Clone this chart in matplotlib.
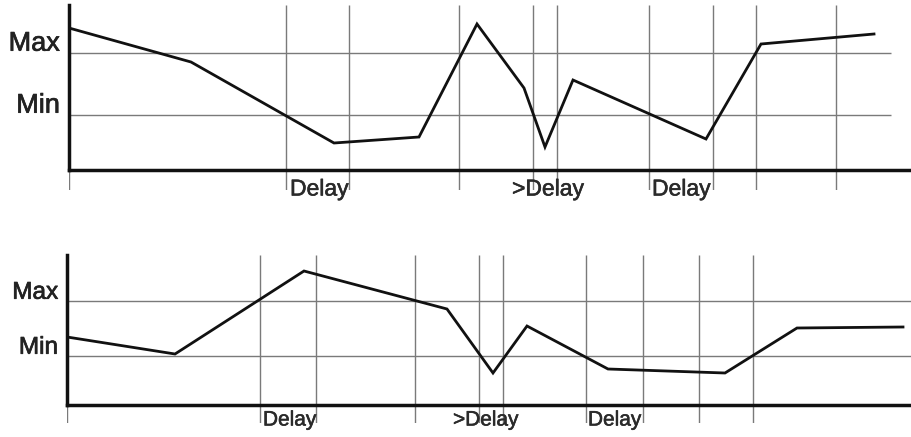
import matplotlib.pyplot as plt
import matplotlib.patheffects as pe

plt.rcParams['font.family'] = ['Liberation Sans', 'DejaVu Sans']

# top panel (x: time, y: level; baseline = 0)
top_x = [0, 122, 265, 350, 408, 455, 476, 504, 637, 692, 805]
top_y = [142, 108, 27, 33, 146, 82, 23, 90, 31, 126, 136]
top_vlines = [0, 217, 280, 390, 464, 488, 580, 644, 687, 767]
top_max, top_min = 117, 55
top_labels = ["Delay", ">Delay", "Delay"]
top_label_x = [221, 443, 583]

# bottom panel
bot_x = [0, 108, 237, 380, 426, 460, 541, 658, 730, 836]
bot_y = [68, 51, 134, 96, 32, 79, 36, 32, 77, 78]
bot_vlines = [0, 193, 249, 348, 412, 436, 519, 576, 632, 686]
bot_max, bot_min = 104, 49
bot_labels = ["Delay", ">Delay", "Delay"]
bot_label_x = [196, 386, 521]

W, H = 912, 437
fig = plt.figure(figsize=(W / 100, H / 100), dpi=100)


def panel(rect, xs, ys, vls, ymax, ymin, xlim, ylim, hl_end, labels, lab_x,
          lab_y, big, small):
    ax = fig.add_axes(rect)
    ax.set_xlim(*xlim)
    ax.set_ylim(*ylim)
    ax.vlines(vls, ylim[0], ylim[1], color='#7a7a7a', lw=1.0, zorder=1)
    ax.hlines([ymax, ymin], 0, hl_end, color='#7a7a7a', lw=1.0, zorder=1)
    ax.plot(xs, ys, color='#111111', lw=2.0, zorder=3, solid_joinstyle='miter')
    for s in ['top', 'right']:
        ax.spines[s].set_visible(False)
    ax.spines['bottom'].set_position(('data', 0))
    ax.spines['left'].set_bounds(0, ylim[1])
    for s in ['left', 'bottom']:
        ax.spines[s].set_linewidth(2.5)
        ax.spines[s].set_color('#111111')
    ax.set_xticks([])
    ax.set_yticks([])
    ax.patch.set_alpha(0)
    fx = [pe.withStroke(linewidth=0.5, foreground='#222222')]
    ax.text(-9, ymax + (ymax - ymin) * 0.15, "Max", ha='right', va='center',
            fontsize=big, color='#222222', clip_on=False, path_effects=fx)
    ax.text(-9, ymin + (ymax - ymin) * 0.15, "Min", ha='right', va='center',
            fontsize=big, color='#222222', clip_on=False, path_effects=fx)
    fx2 = [pe.withStroke(linewidth=0.4, foreground='#2a2a2a')]
    for t, x in zip(labels, lab_x):
        ax.text(x, lab_y, t, ha='left', va='center', fontsize=small,
                color='#2a2a2a', clip_on=False, path_effects=fx2)
    return ax


panel([69 / W, (H - 190) / H, 843 / W, 185 / H], top_x, top_y, top_vlines,
      top_max, top_min, (0, 843), (-20, 165), 822, top_labels, top_label_x,
      -19, 19.5, 16.5)
panel([67 / W, (H - 423) / H, 845 / W, 168 / H], bot_x, bot_y, bot_vlines,
      bot_max, bot_min, (0, 845), (-18, 150), 845, bot_labels, bot_label_x,
      -15, 17.5, 15)

fig.savefig("out.png", dpi=100)
